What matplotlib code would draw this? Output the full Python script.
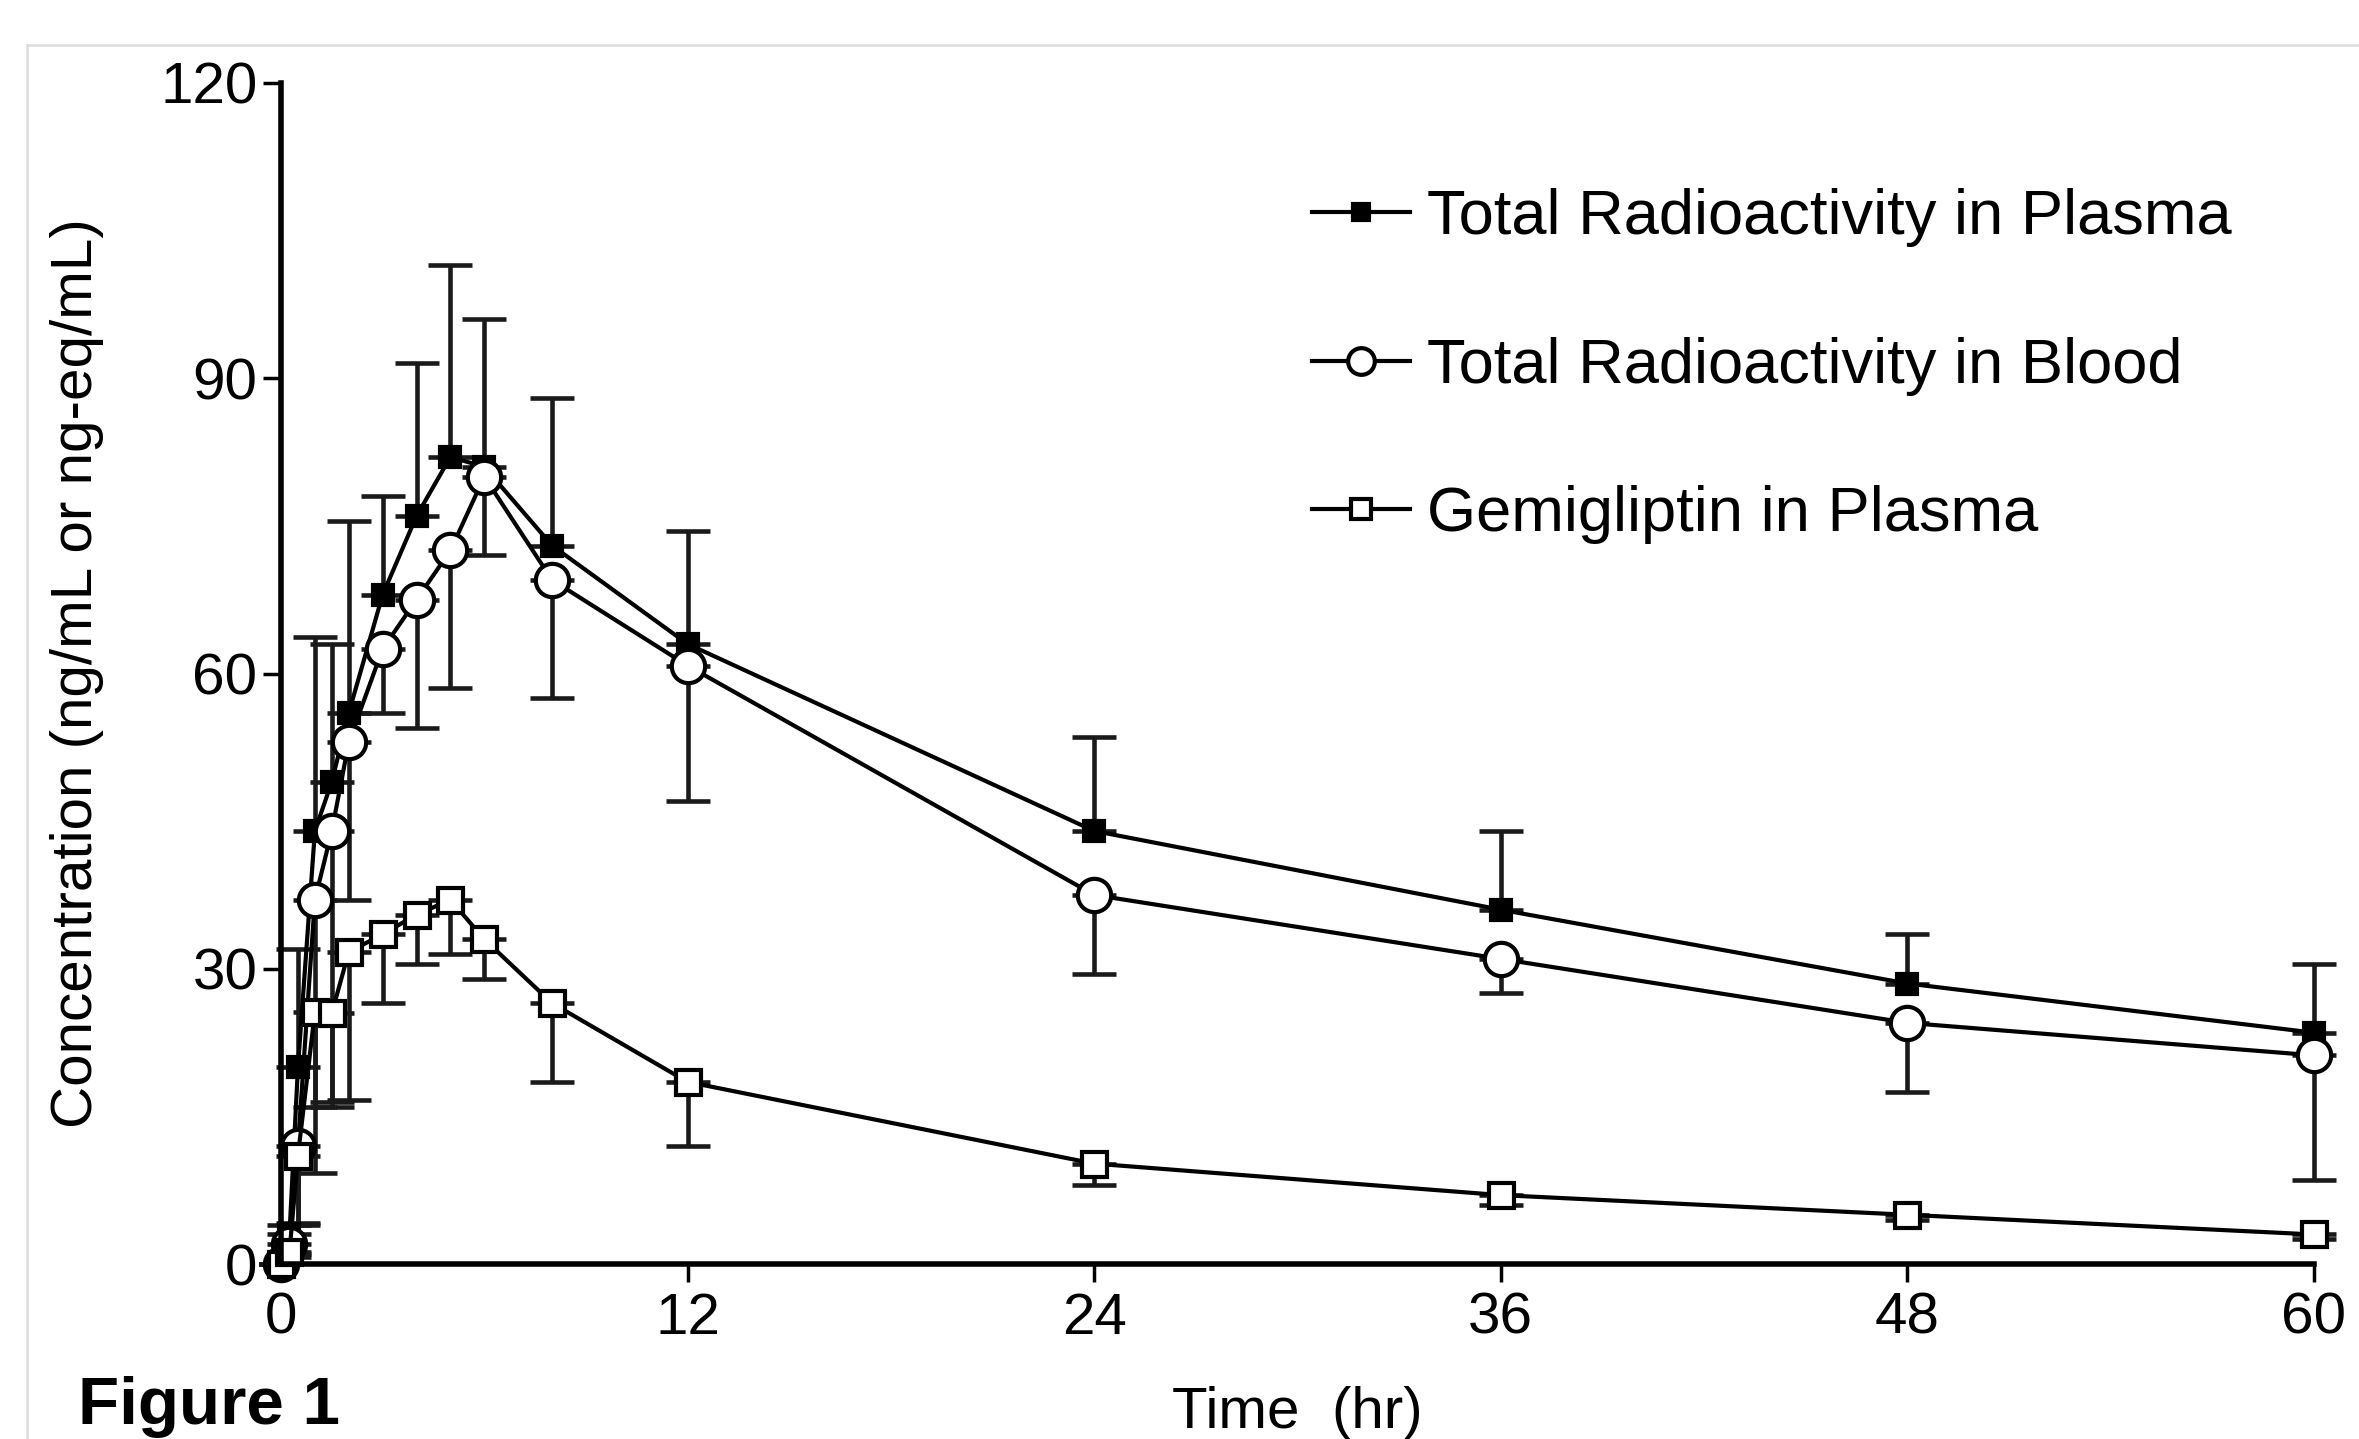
import matplotlib
matplotlib.use("Agg")
import matplotlib.pyplot as plt
from matplotlib.lines import Line2D

plt.rcParams["font.family"] = ["Liberation Sans", "DejaVu Sans"]

# sampling times (hr)
time_hr = [0, 0.25, 0.5, 1, 1.5, 2, 3, 4, 5, 6, 8, 12, 24, 36, 48, 60]

# Total radioactivity in plasma (mean, upper SD)
plasma_mean = [0, 3, 20, 44, 49, 56, 68, 76, 82, 81, 73, 63, 44, 36, 28.5, 23.5]
plasma_sd = [0, 1, 12, 19.7, 14, 19.5, 10, 15.5, 19.5, 15, 15, 11.5, 9.5, 8, 5, 7]

# Total radioactivity in blood (mean, lower SD)
blood_mean = [0, 2, 12, 37, 44, 53, 62.5, 67.5, 72.5, 80, 69.5, 60.8, 37.5, 31, 24.5, 21.2]
blood_sd = [0, 1, 8, 21, 28, 16, 6.5, 13, 14, 8, 12, 13.8, 8, 3.5, 7, 12.7]

# Gemigliptin in plasma (mean, lower SD)
gemi_mean = [0, 1.2, 11, 25.6, 25.5, 31.7, 33.5, 35.5, 37, 33, 26.5, 18.5, 10.2, 7, 5, 3]
gemi_sd = [0, 0.5, 6.8, 16.4, 9, 15, 7, 5, 5.5, 4, 8, 6.5, 2.2, 1, 0.5, 0.5]

labels = [
    "Total Radioactivity in Plasma",
    "Total Radioactivity in Blood",
    "Gemigliptin in Plasma",
]

W, H = 2359, 1439
fig = plt.figure(figsize=(W / 100, H / 100), dpi=100)
fig.patch.set_facecolor("white")

# light frame around the panel
fig.add_artist(Line2D([27 / W, 27 / W], [0, 1 - 45 / H], transform=fig.transFigure,
                      color="#dcdcdc", lw=1.8))
fig.add_artist(Line2D([27 / W, 1], [1 - 45 / H, 1 - 45 / H], transform=fig.transFigure,
                      color="#dcdcdc", lw=1.8))

ax = fig.add_axes([281 / W, 1 - 1264 / H, (2314 - 281) / W, (1264 - 83) / H])

eb_kw = dict(fmt="none", ecolor="#1a1a1a", elinewidth=3.3, capsize=16, capthick=3.3,
             clip_on=False, zorder=2)
ax.errorbar(time_hr, plasma_mean, yerr=[[0] * len(plasma_sd), plasma_sd], **eb_kw)
ax.errorbar(time_hr, blood_mean, yerr=[blood_sd, [0] * len(blood_sd)], **eb_kw)
ax.errorbar(time_hr, gemi_mean, yerr=[gemi_sd, [0] * len(gemi_sd)], **eb_kw)

line_kw = dict(color="black", lw=3, clip_on=False, zorder=3, markeredgewidth=3)
ax.plot(time_hr, plasma_mean, marker="s", ms=15, mfc="black", mec="black",
        label=labels[0], **line_kw)
ax.plot(time_hr, blood_mean, marker="o", ms=24, mfc="white", mec="black",
        label=labels[1], **line_kw)
ax.plot(time_hr, gemi_mean, marker="s", ms=18, mfc="white", mec="black",
        label=labels[2], **line_kw)

ax.set_xlim(0, 60)
ax.set_ylim(0, 120)
ax.set_xticks([0, 12, 24, 36, 48, 60])
ax.set_yticks([0, 30, 60, 90, 120])

for side in ["top", "right"]:
    ax.spines[side].set_visible(False)
for side in ["left", "bottom"]:
    ax.spines[side].set_linewidth(4)
    ax.spines[side].set_zorder(4)

ax.tick_params(axis="both", direction="out", length=13, width=2.5, labelsize=42,
               colors="black")
ax.tick_params(axis="y", pad=4)
ax.tick_params(axis="x", pad=7)

ax.set_ylabel("Concentration (ng/mL or ng-eq/mL)", fontsize=42)
ax.yaxis.set_label_coords(-0.087, 0.5)

fig.text((281 + 2314) / 2 / W, 1 - 1428 / H, "Time  (hr)", fontsize=42,
         ha="center", va="baseline")
fig.text(78 / W, 1 - 1424 / H, "Figure 1", fontsize=48.5, fontweight="bold",
         ha="left", va="baseline")

ax.legend(loc="upper left", bbox_to_anchor=(1312 / W, 1 - 188 / H),
          bbox_transform=fig.transFigure, frameon=False, fontsize=45.5,
          handlelength=1.55, handletextpad=0.27, labelspacing=1.42,
          borderpad=0, borderaxespad=0, markerscale=0.8)

fig.savefig("out.png", dpi=100, facecolor="white")
